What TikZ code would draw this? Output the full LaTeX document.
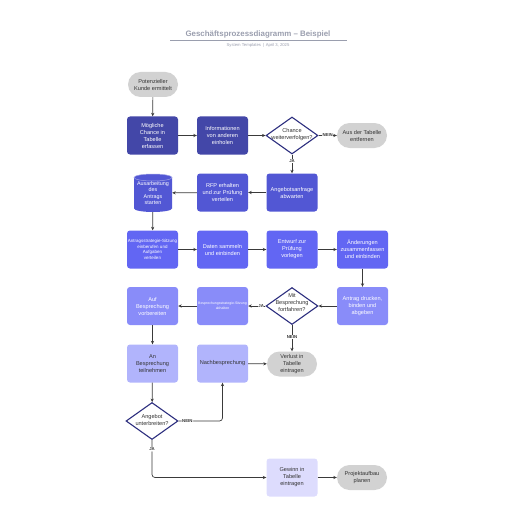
\documentclass[tikz,border=0pt]{standalone}
\usepackage{fontspec}
\setmainfont{Liberation Sans}
\usetikzlibrary{shapes.geometric,arrows.meta}
\definecolor{cA}{HTML}{4347A8}
\definecolor{cB}{HTML}{5257D4}
\definecolor{cC}{HTML}{6266F3}
\definecolor{cD}{HTML}{898CF9}
\definecolor{cE}{HTML}{B1B4FC}
\definecolor{cF}{HTML}{DDDCFD}
\definecolor{cGrey}{HTML}{D2D2D2}
\definecolor{cDia}{HTML}{2D2F7F}
\definecolor{cLine}{HTML}{3A3A3A}
\definecolor{cTxt}{HTML}{333333}
\definecolor{cTitle}{HTML}{9A9EAE}
\tikzset{
  boxbase/.style={rectangle, rounded corners=3pt, minimum width=51pt, minimum height=38pt, inner sep=0.5pt, align=center, font=\fontsize{5.6}{7}\selectfont},
  rowA/.style={boxbase, fill=cA, text=white},
  rowB/.style={boxbase, fill=cB, text=white},
  rowC/.style={boxbase, fill=cC, text=white},
  rowD/.style={boxbase, fill=cD, text=white},
  rowE/.style={boxbase, fill=cE, text=cTxt},
  rowF/.style={boxbase, fill=cF, text=cTxt},
  pill/.style={rectangle, rounded corners=12.5pt, fill=cGrey, minimum width=50pt, minimum height=25pt, inner sep=0.5pt, align=center, text=cTxt, font=\fontsize{5.6}{7}\selectfont},
  dia/.style={diamond, draw=cDia, line width=1.1pt, fill=white, minimum width=52pt, minimum height=37pt, inner sep=0pt},
  diatext/.style={align=center, text=cTxt, font=\fontsize{5.6}{7}\selectfont, inner sep=0pt},
  conn/.style={draw=cLine, line width=0.7pt, -{Stealth[length=3.5pt,width=3.2pt]}},
  lab/.style={fill=white, font=\fontsize{4.3}{5}\selectfont\bfseries, inner sep=0.6pt, text=cTxt}
}
\begin{document}
\begin{tikzpicture}[x=1pt,y=-1pt]
\useasboundingbox (0,0) rectangle (516,516);
% title
\node[font=\fontsize{7.9}{9}\selectfont\bfseries, text=cTitle, inner sep=0] (title) at (258,34) {Geschäftsprozessdiagramm – Beispiel};
\draw[cTitle, line width=0.8pt] (170,40) -- (347,40);
\node[font=\fontsize{4.2}{5}\selectfont, text=cTitle, inner sep=0] (sub) at (258,45) {System Templates \,|\, April 3, 2025};

% row 1
\node[pill] (start) at (153,84.5) {Potenzieller\\Kunde ermittelt};
\node[rowA] (chance) at (152.5,135.5) {Mögliche\\Chance in\\Tabelle\\erfassen};
\node[rowA] (info) at (222.5,135.5) {Informationen\\von anderen\\einholen};
\node[dia] (d1) at (292,135.5) {};
\node[diatext] (d1t) at (292,134.5) {Chance\\weiterverfolgen?};
\node[pill] (aus) at (362,135.5) {Aus der Tabelle\\entfernen};

% row 2
\node[rowB] (anfrage) at (292,192.5) {Angebotsanfrage\\abwarten};
\node[rowB] (rfp) at (222.5,192.5) {RFP erhalten\\und zur Prüfung\\verteilen};
% cylinder
\fill[cB] (134,177.5) -- (134,208.5) arc[start angle=180, end angle=360, x radius=19pt, y radius=3.5pt] -- (172,177.5) arc[start angle=0, end angle=180, x radius=19pt, y radius=3.5pt] -- cycle;
\draw[white!45!cB, line width=0.5pt] (153,177.5) ellipse[x radius=19pt, y radius=3.5pt];
\node[minimum width=38pt, minimum height=38pt, inner sep=0pt, align=center, text=white, font=\fontsize{5.4}{6.3}\selectfont] (cyl) at (153,193) {\raisebox{-2.5pt}{\parbox{38pt}{\centering Ausarbeitung\\des\\Antrags\\starten}}};

% row 3
\node[rowC, font=\fontsize{4.5}{5.7}\selectfont] (sitz) at (152.5,249.5) {Antragsstrategie-Sitzung\\einberufen und\\Aufgaben\\verteilen};
\node[rowC] (daten) at (222.5,249.5) {Daten sammeln\\und einbinden};
\node[rowC] (entwurf) at (292,249.5) {Entwurf zur\\Prüfung\\vorlegen};
\node[rowC] (aend) at (362.5,249.5) {Änderungen\\zusammenfassen\\und einbinden};

% row 4
\node[rowD] (drucken) at (362.5,306) {Antrag drucken,\\binden und\\abgeben};
\node[dia] (d2) at (292,306) {};
\node[diatext] (d2t) at (292,302.5) {Mit\\Besprechung\\fortfahren?};
\node[rowD, font=\fontsize{3.5}{4.6}\selectfont] (bstrat) at (222.5,306) {Besprechungsstrategie-Sitzung\\abhalten};
\node[rowD] (vorb) at (152.5,306) {Auf\\Besprechung\\vorbereiten};

% row 5
\node[rowE] (teil) at (152.5,363.5) {An\\Besprechung\\teilnehmen};
\node[rowE] (nach) at (222.5,363.5) {Nachbesprechung};
\node[pill] (verlust) at (292,364) {Verlust in\\Tabelle\\eintragen};

% row 6
\node[dia] (d3) at (152,421) {};
\node[diatext] (d3t) at (152,419.5) {Angebot\\unterbreiten?};
\node[rowF] (gewinn) at (292,477.5) {Gewinn in\\Tabelle\\eintragen};
\node[pill] (projekt) at (362,477.5) {Projektaufbau\\planen};

% connectors
\draw[conn] (start) -- (chance);
\draw[conn] (chance) -- (info);
\draw[conn] (info) -- (d1);
\draw[conn] (d1) -- node[lab]{NEIN} (aus);
\draw[conn] (d1) -- node[lab, pos=0.35]{JA} (anfrage);
\draw[conn] (anfrage) -- (rfp);
\draw[conn] (rfp) -- (cyl);
\draw[conn] (cyl) -- (sitz);
\draw[conn] (sitz) -- (daten);
\draw[conn] (daten) -- (entwurf);
\draw[conn] (entwurf) -- (aend);
\draw[conn] (aend) -- (drucken);
\draw[conn] (drucken) -- (d2);
\draw[conn] (d2) -- node[lab, pos=0.25]{JA} (bstrat);
\draw[conn] (d2) -- node[lab, pos=0.45]{NEIN} (verlust);
\draw[conn] (bstrat) -- (vorb);
\draw[conn] (vorb) -- (teil);
\draw[conn] (teil) -- (d3);
\draw[conn] (nach) -- (verlust);
\draw[conn, rounded corners=3pt] (d3.east) -| node[lab, pos=0.1]{NEIN} (nach.south);
\draw[conn, rounded corners=3pt] (d3.south) |- node[lab, pos=0.125]{JA} (gewinn.west);
\draw[conn] (gewinn) -- (projekt);
\end{tikzpicture}
\end{document}
